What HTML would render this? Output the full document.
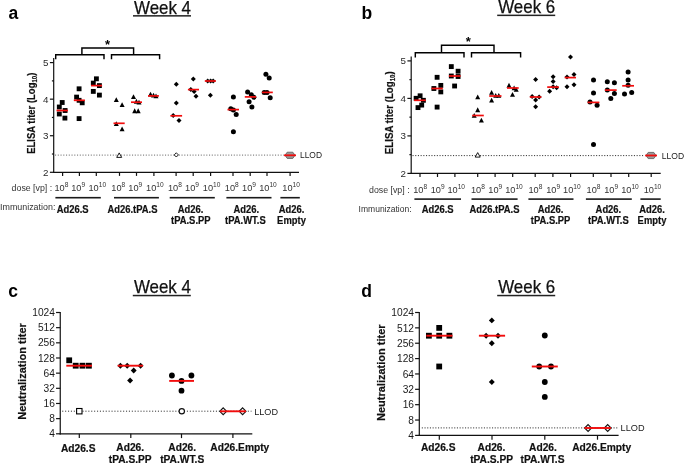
<!DOCTYPE html>
<html><head><meta charset="utf-8"><style>
html,body{margin:0;padding:0;background:#fff;overflow:hidden;}
svg{display:block;will-change:transform;font-family:"Liberation Sans",sans-serif;}
</style></head><body>
<svg width="685" height="464" viewBox="0 0 685 464">
<rect width="685" height="464" fill="#fff"/>
<text x="8.5" y="19.4" font-size="17.5" text-anchor="start" font-weight="bold" fill="#000" >a</text>
<text x="134" y="13.7" font-size="17.8" text-anchor="start" font-weight="normal" fill="#111" textLength="57" lengthAdjust="spacingAndGlyphs" stroke="#111" stroke-width="0.25">Week 4</text>
<rect x="133" y="15.100000000000001" width="58" height="1.5" fill="#222"/>
<line x1="53.7" y1="58.1" x2="53.7" y2="172.9" stroke="#111" stroke-width="1.2" />
<line x1="53.1" y1="172.3" x2="299" y2="172.3" stroke="#111" stroke-width="1.2" />
<line x1="49.900000000000006" y1="62.599999999999994" x2="53.7" y2="62.599999999999994" stroke="#111" stroke-width="1.2" />
<text x="48.5" y="66.1" font-size="9.8" text-anchor="end" font-weight="normal" fill="#2a2a2a" >5</text>
<line x1="49.900000000000006" y1="99.16666666666667" x2="53.7" y2="99.16666666666667" stroke="#111" stroke-width="1.2" />
<text x="48.5" y="102.66666666666667" font-size="9.8" text-anchor="end" font-weight="normal" fill="#2a2a2a" >4</text>
<line x1="49.900000000000006" y1="135.73333333333335" x2="53.7" y2="135.73333333333335" stroke="#111" stroke-width="1.2" />
<text x="48.5" y="139.23333333333335" font-size="9.8" text-anchor="end" font-weight="normal" fill="#2a2a2a" >3</text>
<line x1="49.900000000000006" y1="172.3" x2="53.7" y2="172.3" stroke="#111" stroke-width="1.2" />
<text x="48.5" y="175.8" font-size="9.8" text-anchor="end" font-weight="normal" fill="#2a2a2a" >2</text>
<line x1="51.900000000000006" y1="80.88333333333334" x2="53.7" y2="80.88333333333334" stroke="#111" stroke-width="1.2" />
<line x1="51.900000000000006" y1="117.45" x2="53.7" y2="117.45" stroke="#111" stroke-width="1.2" />
<line x1="51.900000000000006" y1="154.01666666666668" x2="53.7" y2="154.01666666666668" stroke="#111" stroke-width="1.2" />
<line x1="62.6" y1="172.3" x2="62.6" y2="175.9" stroke="#111" stroke-width="1.2" />
<line x1="79.4" y1="172.3" x2="79.4" y2="175.9" stroke="#111" stroke-width="1.2" />
<line x1="96.3" y1="172.3" x2="96.3" y2="175.9" stroke="#111" stroke-width="1.2" />
<line x1="119.5" y1="172.3" x2="119.5" y2="175.9" stroke="#111" stroke-width="1.2" />
<line x1="136.5" y1="172.3" x2="136.5" y2="175.9" stroke="#111" stroke-width="1.2" />
<line x1="153.9" y1="172.3" x2="153.9" y2="175.9" stroke="#111" stroke-width="1.2" />
<line x1="176.1" y1="172.3" x2="176.1" y2="175.9" stroke="#111" stroke-width="1.2" />
<line x1="193.2" y1="172.3" x2="193.2" y2="175.9" stroke="#111" stroke-width="1.2" />
<line x1="210.6" y1="172.3" x2="210.6" y2="175.9" stroke="#111" stroke-width="1.2" />
<line x1="233" y1="172.3" x2="233" y2="175.9" stroke="#111" stroke-width="1.2" />
<line x1="250.2" y1="172.3" x2="250.2" y2="175.9" stroke="#111" stroke-width="1.2" />
<line x1="267" y1="172.3" x2="267" y2="175.9" stroke="#111" stroke-width="1.2" />
<line x1="290.1" y1="172.3" x2="290.1" y2="175.9" stroke="#111" stroke-width="1.2" />
<text transform="translate(34.9,113.2) rotate(-90) scale(0.93,1)" font-size="10.21" font-weight="bold" text-anchor="middle" fill="#111" stroke="#111" stroke-width="0.2">ELISA titer (Log<tspan font-size="6.6" dy="2">10</tspan><tspan dy="-2">)</tspan></text>
<path d="M55.7,59.2 V54.8 H104 V59.2" fill="none" stroke="#000" stroke-width="1.45"/>
<path d="M111.5,59.2 V54.8 H159.6 V59.2" fill="none" stroke="#000" stroke-width="1.45"/>
<path d="M81.9,54.8 V48 H133.6 V54.8" fill="none" stroke="#000" stroke-width="1.45"/>
<text x="107.6" y="49.1" font-size="13" text-anchor="middle" font-weight="bold" fill="#000" >*</text>
<line x1="55" y1="155.1" x2="284" y2="155.1" stroke="#888" stroke-width="1.3" stroke-dasharray="1.1,1.65"/>
<text x="300" y="158.4" font-size="9.4" text-anchor="start" font-weight="normal" fill="#222" textLength="22" lengthAdjust="spacingAndGlyphs">LLOD</text>
<rect x="59.78" y="100.08" width="4.85" height="4.85" fill="#000"/>
<rect x="56.88" y="104.58" width="4.85" height="4.85" fill="#000"/>
<rect x="62.67" y="108.08" width="4.85" height="4.85" fill="#000"/>
<rect x="56.88" y="111.58" width="4.85" height="4.85" fill="#000"/>
<rect x="62.48" y="115.67" width="4.85" height="4.85" fill="#000"/>
<line x1="56.5" y1="110.5" x2="68" y2="110.5" stroke="#f20c0c" stroke-width="1.7"/>
<rect x="76.67" y="86.38" width="4.85" height="4.85" fill="#000"/>
<rect x="74.17" y="94.67" width="4.85" height="4.85" fill="#000"/>
<rect x="76.67" y="97.88" width="4.85" height="4.85" fill="#000"/>
<rect x="79.78" y="100.38" width="4.85" height="4.85" fill="#000"/>
<rect x="76.67" y="116.17" width="4.85" height="4.85" fill="#000"/>
<line x1="73.8" y1="100.3" x2="84.9" y2="100.3" stroke="#f20c0c" stroke-width="1.7"/>
<rect x="93.98" y="76.38" width="4.85" height="4.85" fill="#000"/>
<rect x="90.88" y="80.67" width="4.85" height="4.85" fill="#000"/>
<rect x="96.98" y="83.17" width="4.85" height="4.85" fill="#000"/>
<rect x="90.88" y="88.98" width="4.85" height="4.85" fill="#000"/>
<rect x="96.98" y="92.67" width="4.85" height="4.85" fill="#000"/>
<line x1="91" y1="85.6" x2="102.1" y2="85.6" stroke="#f20c0c" stroke-width="1.7"/>
<polygon points="116.30,97.15 118.80,101.95 113.80,101.95" fill="#000"/>
<polygon points="122.10,102.25 124.60,107.05 119.60,107.05" fill="#000"/>
<polygon points="116.30,121.25 118.80,126.05 113.80,126.05" fill="#000"/>
<polygon points="122.10,126.45 124.60,131.25 119.60,131.25" fill="#000"/>
<line x1="113.5" y1="123.3" x2="124.7" y2="123.3" stroke="#f20c0c" stroke-width="1.7"/>
<polygon points="119.20,152.90 121.70,157.40 116.70,157.40" fill="#fff" stroke="#000" stroke-width="0.9"/>
<polygon points="133.50,94.15 136.00,98.95 131.00,98.95" fill="#000"/>
<polygon points="136.40,98.85 138.90,103.65 133.90,103.65" fill="#000"/>
<polygon points="139.00,99.65 141.50,104.45 136.50,104.45" fill="#000"/>
<polygon points="134.70,108.35 137.20,113.15 132.20,113.15" fill="#000"/>
<polygon points="138.20,108.35 140.70,113.15 135.70,113.15" fill="#000"/>
<line x1="131" y1="102.2" x2="142" y2="102.2" stroke="#f20c0c" stroke-width="1.7"/>
<polygon points="150.50,91.75 153.00,96.55 148.00,96.55" fill="#000"/>
<polygon points="153.50,92.75 156.00,97.55 151.00,97.55" fill="#000"/>
<polygon points="156.00,93.45 158.50,98.25 153.50,98.25" fill="#000"/>
<line x1="148" y1="95.9" x2="158.9" y2="95.9" stroke="#f20c0c" stroke-width="1.7"/>
<polygon points="176.30,81.70 178.80,84.20 176.30,86.70 173.80,84.20" fill="#000"/>
<polygon points="176.30,100.50 178.80,103.00 176.30,105.50 173.80,103.00" fill="#000"/>
<polygon points="173.20,113.10 175.70,115.60 173.20,118.10 170.70,115.60" fill="#000"/>
<polygon points="179.00,118.00 181.50,120.50 179.00,123.00 176.50,120.50" fill="#000"/>
<line x1="170.4" y1="115.8" x2="182.1" y2="115.8" stroke="#f20c0c" stroke-width="1.7"/>
<polygon points="176.30,152.80 178.40,154.90 176.30,157.00 174.20,154.90" fill="#fff" stroke="#000" stroke-width="0.9"/>
<polygon points="193.30,76.60 195.80,79.10 193.30,81.60 190.80,79.10" fill="#000"/>
<polygon points="190.80,86.90 193.30,89.40 190.80,91.90 188.30,89.40" fill="#000"/>
<polygon points="194.10,88.90 196.60,91.40 194.10,93.90 191.60,91.40" fill="#000"/>
<polygon points="196.00,93.70 198.50,96.20 196.00,98.70 193.50,96.20" fill="#000"/>
<line x1="187.9" y1="89.6" x2="199" y2="89.6" stroke="#f20c0c" stroke-width="1.7"/>
<polygon points="207.70,78.50 210.20,81.00 207.70,83.50 205.20,81.00" fill="#000"/>
<polygon points="210.60,78.50 213.10,81.00 210.60,83.50 208.10,81.00" fill="#000"/>
<polygon points="213.20,78.50 215.70,81.00 213.20,83.50 210.70,81.00" fill="#000"/>
<polygon points="210.40,92.70 212.90,95.20 210.40,97.70 207.90,95.20" fill="#000"/>
<line x1="204.8" y1="81" x2="215.9" y2="81" stroke="#f20c0c" stroke-width="1.7"/>
<circle cx="233.40" cy="96.90" r="2.5" fill="#000"/>
<circle cx="230.80" cy="108.80" r="2.5" fill="#000"/>
<circle cx="233.40" cy="109.90" r="2.5" fill="#000"/>
<circle cx="236.20" cy="114.60" r="2.5" fill="#000"/>
<circle cx="233.40" cy="131.80" r="2.5" fill="#000"/>
<line x1="227.5" y1="109.6" x2="239" y2="109.6" stroke="#f20c0c" stroke-width="1.7"/>
<circle cx="247.60" cy="92.00" r="2.5" fill="#000"/>
<circle cx="251.30" cy="94.80" r="2.5" fill="#000"/>
<circle cx="253.90" cy="97.30" r="2.5" fill="#000"/>
<circle cx="249.10" cy="101.70" r="2.5" fill="#000"/>
<circle cx="251.90" cy="107.00" r="2.5" fill="#000"/>
<line x1="244.8" y1="96.9" x2="256.2" y2="96.9" stroke="#f20c0c" stroke-width="1.7"/>
<circle cx="265.90" cy="74.30" r="2.5" fill="#000"/>
<circle cx="269.20" cy="77.90" r="2.5" fill="#000"/>
<circle cx="264.20" cy="92.40" r="2.5" fill="#000"/>
<circle cx="267.00" cy="92.40" r="2.5" fill="#000"/>
<circle cx="270.20" cy="97.80" r="2.5" fill="#000"/>
<line x1="262" y1="92.4" x2="272.8" y2="92.4" stroke="#f20c0c" stroke-width="1.7"/>
<polygon points="287.2,152.2 292.8,152.2 295,155.3 292.8,158.4 287.2,158.4 285,155.3" fill="#9a9a9a" stroke="#555" stroke-width="0.8"/>
<line x1="284.1" y1="155.3" x2="296" y2="155.3" stroke="#f20c0c" stroke-width="1.8"/>
<text x="52.2" y="191.3" font-size="8.8" text-anchor="end" font-weight="normal" fill="#333" >dose [vp] :</text>
<text x="61.4" y="191.3" font-size="9.2" text-anchor="middle" fill="#333">10<tspan font-size="6.6" dy="-4">8</tspan></text>
<text x="78.2" y="191.3" font-size="9.2" text-anchor="middle" fill="#333">10<tspan font-size="6.6" dy="-4">9</tspan></text>
<text x="97.3" y="191.3" font-size="9.2" text-anchor="middle" fill="#333">10<tspan font-size="6.6" dy="-4">10</tspan></text>
<text x="118.3" y="191.3" font-size="9.2" text-anchor="middle" fill="#333">10<tspan font-size="6.6" dy="-4">8</tspan></text>
<text x="135.3" y="191.3" font-size="9.2" text-anchor="middle" fill="#333">10<tspan font-size="6.6" dy="-4">9</tspan></text>
<text x="154.9" y="191.3" font-size="9.2" text-anchor="middle" fill="#333">10<tspan font-size="6.6" dy="-4">10</tspan></text>
<text x="174.9" y="191.3" font-size="9.2" text-anchor="middle" fill="#333">10<tspan font-size="6.6" dy="-4">8</tspan></text>
<text x="192.0" y="191.3" font-size="9.2" text-anchor="middle" fill="#333">10<tspan font-size="6.6" dy="-4">9</tspan></text>
<text x="211.6" y="191.3" font-size="9.2" text-anchor="middle" fill="#333">10<tspan font-size="6.6" dy="-4">10</tspan></text>
<text x="231.8" y="191.3" font-size="9.2" text-anchor="middle" fill="#333">10<tspan font-size="6.6" dy="-4">8</tspan></text>
<text x="249.0" y="191.3" font-size="9.2" text-anchor="middle" fill="#333">10<tspan font-size="6.6" dy="-4">9</tspan></text>
<text x="268.0" y="191.3" font-size="9.2" text-anchor="middle" fill="#333">10<tspan font-size="6.6" dy="-4">10</tspan></text>
<text x="291.1" y="191.3" font-size="9.2" text-anchor="middle" fill="#333">10<tspan font-size="6.6" dy="-4">10</tspan></text>
<rect x="55.4" y="196.9" width="45.4" height="1.6" fill="#1a1a1a"/>
<rect x="114" y="196.9" width="44.900000000000006" height="1.6" fill="#1a1a1a"/>
<rect x="169.7" y="196.9" width="45.10000000000002" height="1.6" fill="#1a1a1a"/>
<rect x="226.4" y="196.9" width="45.099999999999994" height="1.6" fill="#1a1a1a"/>
<rect x="280.4" y="196.9" width="19.400000000000034" height="1.6" fill="#1a1a1a"/>
<text x="0" y="210" font-size="8.8" text-anchor="start" font-weight="normal" fill="#333" textLength="55.4" lengthAdjust="spacingAndGlyphs">Immunization:</text>
<text x="72.7" y="212.7" font-size="10.4" text-anchor="middle" font-weight="bold" fill="#111" stroke="#111" stroke-width="0.2" textLength="31.91" lengthAdjust="spacingAndGlyphs">Ad26.S</text>
<text x="132.5" y="212.7" font-size="10.4" text-anchor="middle" font-weight="bold" fill="#111" stroke="#111" stroke-width="0.2" textLength="50.03" lengthAdjust="spacingAndGlyphs">Ad26.tPA.S</text>
<text x="190.6" y="212.7" font-size="10.4" text-anchor="middle" font-weight="bold" fill="#111" stroke="#111" stroke-width="0.2" textLength="25.63" lengthAdjust="spacingAndGlyphs">Ad26.</text>
<text x="190.8" y="223.6" font-size="10.4" text-anchor="middle" font-weight="bold" fill="#111" stroke="#111" stroke-width="0.2" textLength="39.57" lengthAdjust="spacingAndGlyphs">tPA.S.PP</text>
<text x="246.2" y="212.7" font-size="10.4" text-anchor="middle" font-weight="bold" fill="#111" stroke="#111" stroke-width="0.2" textLength="25.63" lengthAdjust="spacingAndGlyphs">Ad26.</text>
<text x="245.4" y="223.6" font-size="10.4" text-anchor="middle" font-weight="bold" fill="#111" stroke="#111" stroke-width="0.2" textLength="40.61" lengthAdjust="spacingAndGlyphs">tPA.WT.S</text>
<text x="291.6" y="212.7" font-size="10.4" text-anchor="middle" font-weight="bold" fill="#111" stroke="#111" stroke-width="0.2" textLength="25.63" lengthAdjust="spacingAndGlyphs">Ad26.</text>
<text x="291.5" y="224.2" font-size="10.4" text-anchor="middle" font-weight="bold" fill="#111" stroke="#111" stroke-width="0.2" textLength="28.76" lengthAdjust="spacingAndGlyphs">Empty</text>
<text x="361.5" y="19.4" font-size="17.5" text-anchor="start" font-weight="bold" fill="#000" >b</text>
<text x="498.2" y="13.1" font-size="17.8" text-anchor="start" font-weight="normal" fill="#111" textLength="57" lengthAdjust="spacingAndGlyphs" stroke="#111" stroke-width="0.25">Week 6</text>
<rect x="497.2" y="14.600000000000001" width="58.00000000000006" height="1.5" fill="#222"/>
<line x1="411.2" y1="56.4" x2="411.2" y2="174.0" stroke="#111" stroke-width="1.2" />
<line x1="410.59999999999997" y1="173.4" x2="660.7" y2="173.4" stroke="#111" stroke-width="1.2" />
<line x1="407.4" y1="60.900000000000006" x2="411.2" y2="60.900000000000006" stroke="#111" stroke-width="1.2" />
<text x="406.0" y="64.4" font-size="9.8" text-anchor="end" font-weight="normal" fill="#2a2a2a" >5</text>
<line x1="407.4" y1="98.4" x2="411.2" y2="98.4" stroke="#111" stroke-width="1.2" />
<text x="406.0" y="101.9" font-size="9.8" text-anchor="end" font-weight="normal" fill="#2a2a2a" >4</text>
<line x1="407.4" y1="135.9" x2="411.2" y2="135.9" stroke="#111" stroke-width="1.2" />
<text x="406.0" y="139.4" font-size="9.8" text-anchor="end" font-weight="normal" fill="#2a2a2a" >3</text>
<line x1="407.4" y1="173.4" x2="411.2" y2="173.4" stroke="#111" stroke-width="1.2" />
<text x="406.0" y="176.9" font-size="9.8" text-anchor="end" font-weight="normal" fill="#2a2a2a" >2</text>
<line x1="409.4" y1="79.65" x2="411.2" y2="79.65" stroke="#111" stroke-width="1.2" />
<line x1="409.4" y1="117.15" x2="411.2" y2="117.15" stroke="#111" stroke-width="1.2" />
<line x1="409.4" y1="154.65" x2="411.2" y2="154.65" stroke="#111" stroke-width="1.2" />
<line x1="420" y1="173.4" x2="420" y2="177.0" stroke="#111" stroke-width="1.2" />
<line x1="437.5" y1="173.4" x2="437.5" y2="177.0" stroke="#111" stroke-width="1.2" />
<line x1="454.9" y1="173.4" x2="454.9" y2="177.0" stroke="#111" stroke-width="1.2" />
<line x1="477.7" y1="173.4" x2="477.7" y2="177.0" stroke="#111" stroke-width="1.2" />
<line x1="495.1" y1="173.4" x2="495.1" y2="177.0" stroke="#111" stroke-width="1.2" />
<line x1="512.7" y1="173.4" x2="512.7" y2="177.0" stroke="#111" stroke-width="1.2" />
<line x1="535.2" y1="173.4" x2="535.2" y2="177.0" stroke="#111" stroke-width="1.2" />
<line x1="552.9" y1="173.4" x2="552.9" y2="177.0" stroke="#111" stroke-width="1.2" />
<line x1="570.6" y1="173.4" x2="570.6" y2="177.0" stroke="#111" stroke-width="1.2" />
<line x1="593.3" y1="173.4" x2="593.3" y2="177.0" stroke="#111" stroke-width="1.2" />
<line x1="611" y1="173.4" x2="611" y2="177.0" stroke="#111" stroke-width="1.2" />
<line x1="628.7" y1="173.4" x2="628.7" y2="177.0" stroke="#111" stroke-width="1.2" />
<line x1="651.2" y1="173.4" x2="651.2" y2="177.0" stroke="#111" stroke-width="1.2" />
<text transform="translate(392.6,112.7) rotate(-90) scale(0.93,1)" font-size="10.43" font-weight="bold" text-anchor="middle" fill="#111" stroke="#111" stroke-width="0.2">ELISA titer (Log<tspan font-size="6.6" dy="2">10</tspan><tspan dy="-2">)</tspan></text>
<path d="M415.3,57.4 V52.8 H464 V57.4" fill="none" stroke="#000" stroke-width="1.45"/>
<path d="M471.5,57.4 V52.8 H520.6 V57.4" fill="none" stroke="#000" stroke-width="1.45"/>
<path d="M441.5,52.8 V45.3 H494 V52.8" fill="none" stroke="#000" stroke-width="1.45"/>
<text x="468.2" y="45.5" font-size="13" text-anchor="middle" font-weight="bold" fill="#000" >*</text>
<line x1="412.5" y1="155.6" x2="644.5" y2="155.6" stroke="#333" stroke-width="1" stroke-dasharray="1.1,1.6"/>
<text x="661.8" y="158.7" font-size="9.4" text-anchor="start" font-weight="normal" fill="#222" textLength="22.3" lengthAdjust="spacingAndGlyphs">LLOD</text>
<rect x="417.68" y="93.38" width="4.85" height="4.85" fill="#000"/>
<rect x="413.68" y="95.88" width="4.85" height="4.85" fill="#000"/>
<rect x="420.97" y="97.88" width="4.85" height="4.85" fill="#000"/>
<rect x="419.27" y="102.67" width="4.85" height="4.85" fill="#000"/>
<rect x="415.57" y="105.17" width="4.85" height="4.85" fill="#000"/>
<line x1="414.1" y1="100.3" x2="425.8" y2="100.3" stroke="#f20c0c" stroke-width="1.7"/>
<rect x="434.68" y="74.88" width="4.85" height="4.85" fill="#000"/>
<rect x="431.47" y="86.08" width="4.85" height="4.85" fill="#000"/>
<rect x="438.38" y="82.98" width="4.85" height="4.85" fill="#000"/>
<rect x="438.38" y="89.48" width="4.85" height="4.85" fill="#000"/>
<rect x="434.68" y="104.67" width="4.85" height="4.85" fill="#000"/>
<line x1="431.5" y1="88.5" x2="442.8" y2="88.5" stroke="#f20c0c" stroke-width="1.7"/>
<rect x="448.88" y="64.17" width="4.85" height="4.85" fill="#000"/>
<rect x="455.68" y="68.78" width="4.85" height="4.85" fill="#000"/>
<rect x="448.88" y="73.58" width="4.85" height="4.85" fill="#000"/>
<rect x="455.68" y="74.08" width="4.85" height="4.85" fill="#000"/>
<rect x="452.18" y="83.58" width="4.85" height="4.85" fill="#000"/>
<line x1="448.9" y1="76" x2="460.6" y2="76" stroke="#f20c0c" stroke-width="1.7"/>
<polygon points="477.70,94.45 480.20,99.25 475.20,99.25" fill="#000"/>
<polygon points="477.70,107.35 480.20,112.15 475.20,112.15" fill="#000"/>
<polygon points="474.20,112.95 476.70,117.75 471.70,117.75" fill="#000"/>
<polygon points="481.40,117.65 483.90,122.45 478.90,122.45" fill="#000"/>
<line x1="472.2" y1="115.5" x2="483.8" y2="115.5" stroke="#f20c0c" stroke-width="1.7"/>
<polygon points="477.70,152.60 480.20,157.10 475.20,157.10" fill="#fff" stroke="#000" stroke-width="0.9"/>
<polygon points="491.60,89.95 494.10,94.75 489.10,94.75" fill="#000"/>
<polygon points="495.70,93.05 498.20,97.85 493.20,97.85" fill="#000"/>
<polygon points="498.80,93.05 501.30,97.85 496.30,97.85" fill="#000"/>
<polygon points="491.60,97.75 494.10,102.55 489.10,102.55" fill="#000"/>
<line x1="489.2" y1="96" x2="501.5" y2="96" stroke="#f20c0c" stroke-width="1.7"/>
<polygon points="509.00,82.85 511.50,87.65 506.50,87.65" fill="#000"/>
<polygon points="514.10,85.45 516.60,90.25 511.60,90.25" fill="#000"/>
<polygon points="516.20,86.95 518.70,91.75 513.70,91.75" fill="#000"/>
<polygon points="512.50,92.05 515.00,96.85 510.00,96.85" fill="#000"/>
<line x1="507" y1="88" x2="518.7" y2="88" stroke="#f20c0c" stroke-width="1.7"/>
<polygon points="535.60,77.10 538.10,79.60 535.60,82.10 533.10,79.60" fill="#000"/>
<polygon points="532.10,94.00 534.60,96.50 532.10,99.00 529.60,96.50" fill="#000"/>
<polygon points="539.10,94.50 541.60,97.00 539.10,99.50 536.60,97.00" fill="#000"/>
<polygon points="535.60,97.50 538.10,100.00 535.60,102.50 533.10,100.00" fill="#000"/>
<polygon points="535.60,104.20 538.10,106.70 535.60,109.20 533.10,106.70" fill="#000"/>
<line x1="529.8" y1="97" x2="541.4" y2="97" stroke="#f20c0c" stroke-width="1.7"/>
<polygon points="553.10,74.20 555.60,76.70 553.10,79.20 550.60,76.70" fill="#000"/>
<polygon points="553.10,79.00 555.60,81.50 553.10,84.00 550.60,81.50" fill="#000"/>
<polygon points="553.10,84.20 555.60,86.70 553.10,89.20 550.60,86.70" fill="#000"/>
<polygon points="556.60,85.20 559.10,87.70 556.60,90.20 554.10,87.70" fill="#000"/>
<polygon points="549.60,88.70 552.10,91.20 549.60,93.70 547.10,91.20" fill="#000"/>
<line x1="547.2" y1="87.1" x2="558.9" y2="87.1" stroke="#f20c0c" stroke-width="1.7"/>
<polygon points="570.50,54.50 573.00,57.00 570.50,59.50 568.00,57.00" fill="#000"/>
<polygon points="567.00,74.50 569.50,77.00 567.00,79.50 564.50,77.00" fill="#000"/>
<polygon points="574.00,72.00 576.50,74.50 574.00,77.00 571.50,74.50" fill="#000"/>
<polygon points="567.00,84.20 569.50,86.70 567.00,89.20 564.50,86.70" fill="#000"/>
<polygon points="574.00,82.30 576.50,84.80 574.00,87.30 571.50,84.80" fill="#000"/>
<line x1="564.7" y1="77.6" x2="576" y2="77.6" stroke="#f20c0c" stroke-width="1.7"/>
<circle cx="593.50" cy="79.90" r="2.5" fill="#000"/>
<circle cx="593.50" cy="92.90" r="2.5" fill="#000"/>
<circle cx="590.00" cy="101.90" r="2.5" fill="#000"/>
<circle cx="597.10" cy="105.20" r="2.5" fill="#000"/>
<circle cx="593.50" cy="144.60" r="2.5" fill="#000"/>
<line x1="587.6" y1="102.4" x2="599.4" y2="102.4" stroke="#f20c0c" stroke-width="1.7"/>
<circle cx="607.30" cy="81.80" r="2.5" fill="#000"/>
<circle cx="614.40" cy="82.70" r="2.5" fill="#000"/>
<circle cx="607.30" cy="90.10" r="2.5" fill="#000"/>
<circle cx="614.40" cy="93.40" r="2.5" fill="#000"/>
<circle cx="610.80" cy="98.40" r="2.5" fill="#000"/>
<line x1="604.9" y1="90.1" x2="616.7" y2="90.1" stroke="#f20c0c" stroke-width="1.7"/>
<circle cx="628.10" cy="72.10" r="2.5" fill="#000"/>
<circle cx="628.10" cy="79.90" r="2.5" fill="#000"/>
<circle cx="628.10" cy="85.30" r="2.5" fill="#000"/>
<circle cx="624.50" cy="94.10" r="2.5" fill="#000"/>
<circle cx="631.70" cy="92.40" r="2.5" fill="#000"/>
<line x1="622.2" y1="85.8" x2="634" y2="85.8" stroke="#f20c0c" stroke-width="1.7"/>
<polygon points="648.2,152.4 653.8,152.4 656,155.5 653.8,158.6 648.2,158.6 646,155.5" fill="#9a9a9a" stroke="#555" stroke-width="0.8"/>
<line x1="645.2" y1="155.5" x2="657" y2="155.5" stroke="#f20c0c" stroke-width="1.8"/>
<text x="409.6" y="193" font-size="8.8" text-anchor="end" font-weight="normal" fill="#333" >dose [vp] :</text>
<text x="420.2" y="192.8" font-size="9.2" text-anchor="middle" fill="#333">10<tspan font-size="6.6" dy="-4">8</tspan></text>
<text x="437.7" y="192.8" font-size="9.2" text-anchor="middle" fill="#333">10<tspan font-size="6.6" dy="-4">9</tspan></text>
<text x="456.2" y="192.8" font-size="9.2" text-anchor="middle" fill="#333">10<tspan font-size="6.6" dy="-4">10</tspan></text>
<text x="477.9" y="192.8" font-size="9.2" text-anchor="middle" fill="#333">10<tspan font-size="6.6" dy="-4">8</tspan></text>
<text x="495.3" y="192.8" font-size="9.2" text-anchor="middle" fill="#333">10<tspan font-size="6.6" dy="-4">9</tspan></text>
<text x="514.0" y="192.8" font-size="9.2" text-anchor="middle" fill="#333">10<tspan font-size="6.6" dy="-4">10</tspan></text>
<text x="535.4000000000001" y="192.8" font-size="9.2" text-anchor="middle" fill="#333">10<tspan font-size="6.6" dy="-4">8</tspan></text>
<text x="553.1" y="192.8" font-size="9.2" text-anchor="middle" fill="#333">10<tspan font-size="6.6" dy="-4">9</tspan></text>
<text x="571.9" y="192.8" font-size="9.2" text-anchor="middle" fill="#333">10<tspan font-size="6.6" dy="-4">10</tspan></text>
<text x="593.5" y="192.8" font-size="9.2" text-anchor="middle" fill="#333">10<tspan font-size="6.6" dy="-4">8</tspan></text>
<text x="611.2" y="192.8" font-size="9.2" text-anchor="middle" fill="#333">10<tspan font-size="6.6" dy="-4">9</tspan></text>
<text x="630.0" y="192.8" font-size="9.2" text-anchor="middle" fill="#333">10<tspan font-size="6.6" dy="-4">10</tspan></text>
<text x="652.5" y="192.8" font-size="9.2" text-anchor="middle" fill="#333">10<tspan font-size="6.6" dy="-4">10</tspan></text>
<rect x="414.4" y="198.3" width="46.60000000000002" height="1.6" fill="#1a1a1a"/>
<rect x="471.5" y="198.3" width="46.10000000000002" height="1.6" fill="#1a1a1a"/>
<rect x="528.4" y="198.3" width="45.10000000000002" height="1.6" fill="#1a1a1a"/>
<rect x="585.9" y="198.3" width="45.89999999999998" height="1.6" fill="#1a1a1a"/>
<rect x="640.4" y="198.3" width="20.300000000000068" height="1.6" fill="#1a1a1a"/>
<text x="358.6" y="212.3" font-size="8.8" text-anchor="start" font-weight="normal" fill="#333" textLength="53" lengthAdjust="spacingAndGlyphs">Immunization:</text>
<text x="437.7" y="212.6" font-size="10.4" text-anchor="middle" font-weight="bold" fill="#111" stroke="#111" stroke-width="0.2" textLength="31.91" lengthAdjust="spacingAndGlyphs">Ad26.S</text>
<text x="494.5" y="212.6" font-size="10.4" text-anchor="middle" font-weight="bold" fill="#111" stroke="#111" stroke-width="0.2" textLength="50.03" lengthAdjust="spacingAndGlyphs">Ad26.tPA.S</text>
<text x="550.6" y="212.6" font-size="10.4" text-anchor="middle" font-weight="bold" fill="#111" stroke="#111" stroke-width="0.2" textLength="25.63" lengthAdjust="spacingAndGlyphs">Ad26.</text>
<text x="550.6" y="223.6" font-size="10.4" text-anchor="middle" font-weight="bold" fill="#111" stroke="#111" stroke-width="0.2" textLength="39.57" lengthAdjust="spacingAndGlyphs">tPA.S.PP</text>
<text x="608.4" y="212.6" font-size="10.4" text-anchor="middle" font-weight="bold" fill="#111" stroke="#111" stroke-width="0.2" textLength="25.63" lengthAdjust="spacingAndGlyphs">Ad26.</text>
<text x="608.4" y="223.6" font-size="10.4" text-anchor="middle" font-weight="bold" fill="#111" stroke="#111" stroke-width="0.2" textLength="40.61" lengthAdjust="spacingAndGlyphs">tPA.WT.S</text>
<text x="652" y="212.6" font-size="10.4" text-anchor="middle" font-weight="bold" fill="#111" stroke="#111" stroke-width="0.2" textLength="25.63" lengthAdjust="spacingAndGlyphs">Ad26.</text>
<text x="652" y="224.2" font-size="10.4" text-anchor="middle" font-weight="bold" fill="#111" stroke="#111" stroke-width="0.2" textLength="28.76" lengthAdjust="spacingAndGlyphs">Empty</text>
<text x="8.2" y="296.6" font-size="17.5" text-anchor="start" font-weight="bold" fill="#000" >c</text>
<text x="133.9" y="293.4" font-size="17.8" text-anchor="start" font-weight="normal" fill="#111" textLength="57" lengthAdjust="spacingAndGlyphs" stroke="#111" stroke-width="0.25">Week 4</text>
<rect x="132.8" y="294.8" width="58.0" height="1.5" fill="#222"/>
<line x1="60.25" y1="311.9" x2="60.25" y2="434.40000000000003" stroke="#111" stroke-width="1.2" />
<line x1="59.65" y1="433.8" x2="252.3" y2="433.8" stroke="#111" stroke-width="1.2" />
<line x1="56.05" y1="312.5" x2="60.25" y2="312.5" stroke="#111" stroke-width="1.2" />
<text x="54.95" y="316.15" font-size="10.2" text-anchor="end" font-weight="normal" fill="#1a1a1a" >1024</text>
<line x1="56.05" y1="327.6625" x2="60.25" y2="327.6625" stroke="#111" stroke-width="1.2" />
<text x="54.95" y="331.3125" font-size="10.2" text-anchor="end" font-weight="normal" fill="#1a1a1a" >512</text>
<line x1="56.05" y1="342.825" x2="60.25" y2="342.825" stroke="#111" stroke-width="1.2" />
<text x="54.95" y="346.47499999999997" font-size="10.2" text-anchor="end" font-weight="normal" fill="#1a1a1a" >256</text>
<line x1="56.05" y1="357.9875" x2="60.25" y2="357.9875" stroke="#111" stroke-width="1.2" />
<text x="54.95" y="361.6375" font-size="10.2" text-anchor="end" font-weight="normal" fill="#1a1a1a" >128</text>
<line x1="56.05" y1="373.15" x2="60.25" y2="373.15" stroke="#111" stroke-width="1.2" />
<text x="54.95" y="376.79999999999995" font-size="10.2" text-anchor="end" font-weight="normal" fill="#1a1a1a" >64</text>
<line x1="56.05" y1="388.3125" x2="60.25" y2="388.3125" stroke="#111" stroke-width="1.2" />
<text x="54.95" y="391.9625" font-size="10.2" text-anchor="end" font-weight="normal" fill="#1a1a1a" >32</text>
<line x1="56.05" y1="403.475" x2="60.25" y2="403.475" stroke="#111" stroke-width="1.2" />
<text x="54.95" y="407.125" font-size="10.2" text-anchor="end" font-weight="normal" fill="#1a1a1a" >16</text>
<line x1="56.05" y1="418.63750000000005" x2="60.25" y2="418.63750000000005" stroke="#111" stroke-width="1.2" />
<text x="54.95" y="422.2875" font-size="10.2" text-anchor="end" font-weight="normal" fill="#1a1a1a" >8</text>
<line x1="56.05" y1="433.8" x2="60.25" y2="433.8" stroke="#111" stroke-width="1.2" />
<text x="54.95" y="437.45" font-size="10.2" text-anchor="end" font-weight="normal" fill="#1a1a1a" >4</text>
<line x1="79.3" y1="433.8" x2="79.3" y2="438.1" stroke="#111" stroke-width="1.2" />
<line x1="130.8" y1="433.8" x2="130.8" y2="438.1" stroke="#111" stroke-width="1.2" />
<line x1="181.5" y1="433.8" x2="181.5" y2="438.1" stroke="#111" stroke-width="1.2" />
<line x1="232.9" y1="433.8" x2="232.9" y2="438.1" stroke="#111" stroke-width="1.2" />
<text transform="translate(26.3,371.5) rotate(-90)" font-size="11" font-weight="bold" text-anchor="middle" fill="#111" stroke="#111" stroke-width="0.2">Neutralization titer</text>
<line x1="62.2" y1="411.2" x2="251.5" y2="411.2" stroke="#333" stroke-width="1" stroke-dasharray="1.1,1.8"/>
<text x="254.2" y="414.9" font-size="9.9" text-anchor="start" font-weight="normal" fill="#1a1a1a" textLength="23.8" lengthAdjust="spacingAndGlyphs">LLOD</text>
<rect x="66.30" y="357.40" width="5.8" height="5.8" fill="#000"/>
<rect x="72.80" y="362.80" width="5.8" height="5.8" fill="#000"/>
<rect x="79.60" y="362.80" width="5.8" height="5.8" fill="#000"/>
<rect x="86.00" y="362.80" width="5.8" height="5.8" fill="#000"/>
<line x1="66.3" y1="365.7" x2="92" y2="365.7" stroke="#f20c0c" stroke-width="1.9"/>
<rect x="76.60" y="408.50" width="5.4" height="5.4" fill="#fff" stroke="#000" stroke-width="1.1"/>
<polygon points="120.40,362.75 123.35,365.70 120.40,368.65 117.45,365.70" fill="#000"/>
<polygon points="127.20,362.75 130.15,365.70 127.20,368.65 124.25,365.70" fill="#000"/>
<polygon points="140.60,362.75 143.55,365.70 140.60,368.65 137.65,365.70" fill="#000"/>
<polygon points="133.70,367.55 136.65,370.50 133.70,373.45 130.75,370.50" fill="#000"/>
<polygon points="130.10,377.55 133.05,380.50 130.10,383.45 127.15,380.50" fill="#000"/>
<line x1="117.7" y1="365.7" x2="143" y2="365.7" stroke="#f20c0c" stroke-width="1.9"/>
<circle cx="171.90" cy="375.50" r="2.9" fill="#000"/>
<circle cx="191.40" cy="375.50" r="2.9" fill="#000"/>
<circle cx="181.50" cy="380.90" r="2.9" fill="#000"/>
<circle cx="181.50" cy="390.70" r="2.9" fill="#000"/>
<line x1="169.2" y1="380.9" x2="194" y2="380.9" stroke="#f20c0c" stroke-width="1.9"/>
<circle cx="181.80" cy="411.30" r="2.65" fill="#fff" stroke="#111" stroke-width="1.15"/>
<polygon points="223.20,407.90 226.60,411.30 223.20,414.70 219.80,411.30" fill="#fff" stroke="#111" stroke-width="1.15"/>
<polygon points="242.60,407.90 246.00,411.30 242.60,414.70 239.20,411.30" fill="#fff" stroke="#111" stroke-width="1.15"/>
<line x1="220" y1="411.3" x2="246" y2="411.3" stroke="#f20c0c" stroke-width="1.9"/>
<text x="78.2" y="451.5" font-size="10.8" text-anchor="middle" font-weight="bold" fill="#111" stroke="#111" stroke-width="0.2" textLength="34.60" lengthAdjust="spacingAndGlyphs">Ad26.S</text>
<text x="130.2" y="451.3" font-size="10.8" text-anchor="middle" font-weight="bold" fill="#111" stroke="#111" stroke-width="0.2" textLength="27.79" lengthAdjust="spacingAndGlyphs">Ad26.</text>
<text x="130.2" y="463.1" font-size="10.8" text-anchor="middle" font-weight="bold" fill="#111" stroke="#111" stroke-width="0.2" textLength="42.91" lengthAdjust="spacingAndGlyphs">tPA.S.PP</text>
<text x="182.2" y="451.3" font-size="10.8" text-anchor="middle" font-weight="bold" fill="#111" stroke="#111" stroke-width="0.2" textLength="27.79" lengthAdjust="spacingAndGlyphs">Ad26.</text>
<text x="182.2" y="463.1" font-size="10.8" text-anchor="middle" font-weight="bold" fill="#111" stroke="#111" stroke-width="0.2" textLength="44.03" lengthAdjust="spacingAndGlyphs">tPA.WT.S</text>
<text x="239.8" y="451.3" font-size="10.8" text-anchor="middle" font-weight="bold" fill="#111" stroke="#111" stroke-width="0.2" textLength="58.98" lengthAdjust="spacingAndGlyphs">Ad26.Empty</text>
<text x="361.3" y="296.6" font-size="17.5" text-anchor="start" font-weight="bold" fill="#000" >d</text>
<text x="498.2" y="293.4" font-size="17.8" text-anchor="start" font-weight="normal" fill="#111" textLength="57" lengthAdjust="spacingAndGlyphs" stroke="#111" stroke-width="0.25">Week 6</text>
<rect x="497.2" y="294.8" width="58.00000000000006" height="1.5" fill="#222"/>
<line x1="419.3" y1="311.9" x2="419.3" y2="436.0" stroke="#111" stroke-width="1.2" />
<line x1="418.7" y1="435.4" x2="618.6" y2="435.4" stroke="#111" stroke-width="1.2" />
<line x1="415.1" y1="312.5" x2="419.3" y2="312.5" stroke="#111" stroke-width="1.2" />
<text x="414.0" y="316.15" font-size="10.2" text-anchor="end" font-weight="normal" fill="#1a1a1a" >1024</text>
<line x1="415.1" y1="327.8625" x2="419.3" y2="327.8625" stroke="#111" stroke-width="1.2" />
<text x="414.0" y="331.5125" font-size="10.2" text-anchor="end" font-weight="normal" fill="#1a1a1a" >512</text>
<line x1="415.1" y1="343.225" x2="419.3" y2="343.225" stroke="#111" stroke-width="1.2" />
<text x="414.0" y="346.875" font-size="10.2" text-anchor="end" font-weight="normal" fill="#1a1a1a" >256</text>
<line x1="415.1" y1="358.5875" x2="419.3" y2="358.5875" stroke="#111" stroke-width="1.2" />
<text x="414.0" y="362.23749999999995" font-size="10.2" text-anchor="end" font-weight="normal" fill="#1a1a1a" >128</text>
<line x1="415.1" y1="373.95" x2="419.3" y2="373.95" stroke="#111" stroke-width="1.2" />
<text x="414.0" y="377.59999999999997" font-size="10.2" text-anchor="end" font-weight="normal" fill="#1a1a1a" >64</text>
<line x1="415.1" y1="389.3125" x2="419.3" y2="389.3125" stroke="#111" stroke-width="1.2" />
<text x="414.0" y="392.9625" font-size="10.2" text-anchor="end" font-weight="normal" fill="#1a1a1a" >32</text>
<line x1="415.1" y1="404.67499999999995" x2="419.3" y2="404.67499999999995" stroke="#111" stroke-width="1.2" />
<text x="414.0" y="408.32499999999993" font-size="10.2" text-anchor="end" font-weight="normal" fill="#1a1a1a" >16</text>
<line x1="415.1" y1="420.03749999999997" x2="419.3" y2="420.03749999999997" stroke="#111" stroke-width="1.2" />
<text x="414.0" y="423.68749999999994" font-size="10.2" text-anchor="end" font-weight="normal" fill="#1a1a1a" >8</text>
<line x1="415.1" y1="435.4" x2="419.3" y2="435.4" stroke="#111" stroke-width="1.2" />
<text x="414.0" y="439.04999999999995" font-size="10.2" text-anchor="end" font-weight="normal" fill="#1a1a1a" >4</text>
<line x1="439.3" y1="435.4" x2="439.3" y2="439.7" stroke="#111" stroke-width="1.2" />
<line x1="492" y1="435.4" x2="492" y2="439.7" stroke="#111" stroke-width="1.2" />
<line x1="544.8" y1="435.4" x2="544.8" y2="439.7" stroke="#111" stroke-width="1.2" />
<line x1="597.5" y1="435.4" x2="597.5" y2="439.7" stroke="#111" stroke-width="1.2" />
<text transform="translate(385.2,372.7) rotate(-90)" font-size="11" font-weight="bold" text-anchor="middle" fill="#111" stroke="#111" stroke-width="0.2">Neutralization titer</text>
<line x1="421.8" y1="427.9" x2="617.7" y2="427.9" stroke="#333" stroke-width="1" stroke-dasharray="1.1,1.6"/>
<text x="620.6" y="430.5" font-size="9.9" text-anchor="start" font-weight="normal" fill="#1a1a1a" textLength="24" lengthAdjust="spacingAndGlyphs">LLOD</text>
<rect x="426.00" y="332.80" width="5.8" height="5.8" fill="#000"/>
<rect x="436.30" y="332.80" width="5.8" height="5.8" fill="#000"/>
<rect x="446.50" y="332.80" width="5.8" height="5.8" fill="#000"/>
<rect x="436.30" y="325.00" width="5.8" height="5.8" fill="#000"/>
<rect x="436.30" y="363.60" width="5.8" height="5.8" fill="#000"/>
<line x1="426.3" y1="335.7" x2="452.5" y2="335.7" stroke="#f20c0c" stroke-width="1.9"/>
<polygon points="491.80,317.45 494.75,320.40 491.80,323.35 488.85,320.40" fill="#000"/>
<polygon points="486.10,332.75 489.05,335.70 486.10,338.65 483.15,335.70" fill="#000"/>
<polygon points="498.00,332.75 500.95,335.70 498.00,338.65 495.05,335.70" fill="#000"/>
<polygon points="491.80,340.35 494.75,343.30 491.80,346.25 488.85,343.30" fill="#000"/>
<polygon points="491.80,379.05 494.75,382.00 491.80,384.95 488.85,382.00" fill="#000"/>
<line x1="478.9" y1="335.7" x2="505.1" y2="335.7" stroke="#f20c0c" stroke-width="1.9"/>
<circle cx="544.80" cy="335.50" r="2.9" fill="#000"/>
<circle cx="539.20" cy="366.50" r="2.9" fill="#000"/>
<circle cx="551.00" cy="366.50" r="2.9" fill="#000"/>
<circle cx="544.80" cy="382.00" r="2.9" fill="#000"/>
<circle cx="544.80" cy="396.90" r="2.9" fill="#000"/>
<line x1="531.8" y1="366.5" x2="557.8" y2="366.5" stroke="#f20c0c" stroke-width="1.9"/>
<polygon points="588.10,424.60 591.50,428.00 588.10,431.40 584.70,428.00" fill="#fff" stroke="#111" stroke-width="1.15"/>
<polygon points="607.70,424.60 611.10,428.00 607.70,431.40 604.30,428.00" fill="#fff" stroke="#111" stroke-width="1.15"/>
<line x1="584.5" y1="428" x2="611" y2="428" stroke="#f20c0c" stroke-width="1.9"/>
<text x="438.2" y="451.3" font-size="10.8" text-anchor="middle" font-weight="bold" fill="#111" stroke="#111" stroke-width="0.2" textLength="34.60" lengthAdjust="spacingAndGlyphs">Ad26.S</text>
<text x="491.5" y="451.3" font-size="10.8" text-anchor="middle" font-weight="bold" fill="#111" stroke="#111" stroke-width="0.2" textLength="27.79" lengthAdjust="spacingAndGlyphs">Ad26.</text>
<text x="491.6" y="463.1" font-size="10.8" text-anchor="middle" font-weight="bold" fill="#111" stroke="#111" stroke-width="0.2" textLength="42.91" lengthAdjust="spacingAndGlyphs">tPA.S.PP</text>
<text x="543" y="451.3" font-size="10.8" text-anchor="middle" font-weight="bold" fill="#111" stroke="#111" stroke-width="0.2" textLength="27.79" lengthAdjust="spacingAndGlyphs">Ad26.</text>
<text x="542.5" y="463.1" font-size="10.8" text-anchor="middle" font-weight="bold" fill="#111" stroke="#111" stroke-width="0.2" textLength="44.03" lengthAdjust="spacingAndGlyphs">tPA.WT.S</text>
<text x="601.7" y="451.3" font-size="10.8" text-anchor="middle" font-weight="bold" fill="#111" stroke="#111" stroke-width="0.2" textLength="58.98" lengthAdjust="spacingAndGlyphs">Ad26.Empty</text>
</svg></body></html>
